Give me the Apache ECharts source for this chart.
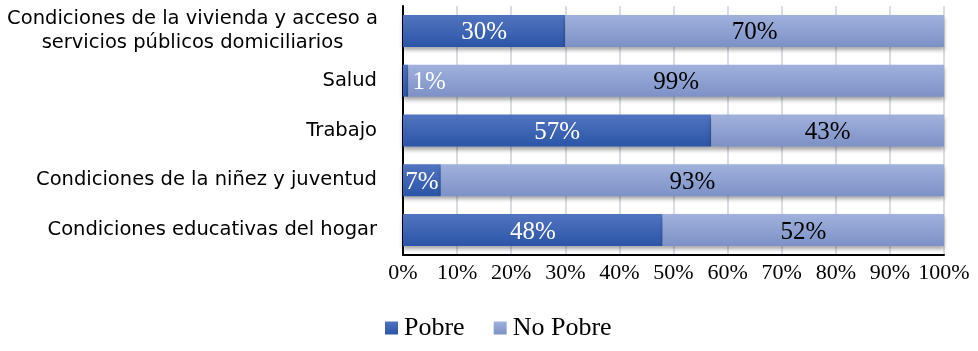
<!DOCTYPE html>
<html><head><meta charset="utf-8">
<script src="https://cdn.jsdelivr.net/npm/echarts@6/dist/echarts.min.js"></script>
<style>html,body{margin:0;padding:0;background:#fff}#c{width:978px;height:351px}</style>
</head><body><div id="c"></div>
<script>
const categories = [
  "Condiciones de la vivienda y acceso a\nservicios públicos domiciliarios",
  "Salud",
  "Trabajo",
  "Condiciones de la niñez y juventud",
  "Condiciones educativas del hogar"
];
const pobre = [30, 1, 57, 7, 48];
const noPobre = [70, 99, 43, 93, 52];
const xTicks = [0, 10, 20, 30, 40, 50, 60, 70, 80, 90, 100];

const serif = '"Liberation Serif","Times New Roman",serif';
const sans = '"DejaVu Sans",Verdana,sans-serif';
const gradP = new echarts.graphic.LinearGradient(0,0,0,1,[{offset:0,color:'#5274c0'},{offset:1,color:'#2b55a7'}]);
const gradN = new echarts.graphic.LinearGradient(0,0,0,1,[{offset:0,color:'#a0b1dc'},{offset:1,color:'#7d91c7'}]);
const shadow = {shadowBlur:4, shadowOffsetY:3, shadowColor:'rgba(0,0,0,0.35)'};

const cats = categories.slice().reverse();
const pData = pobre.slice().reverse().map((v,i)=>{
  const o = {value:v};
  if (v < 3) o.label = {position:'right', distance:4};
  return o;
});
const nData = noPobre.slice().reverse();

const chart = echarts.init(document.getElementById('c'));
chart.setOption({
  animation:false,
  grid:{left:403, right:34, top:6, height:249, containLabel:false},
  legend:{
    data:['Pobre','No Pobre'], top:310, left:380, itemWidth:13, itemHeight:13, itemGap:29,
    icon:'rect',
    textStyle:{fontFamily:serif, fontSize:26, color:'#000', padding:[0,0,0,1]}
  },
  xAxis:{
    type:'value', min:0, max:100, interval:10,
    axisLabel:{formatter:'{value}%', fontFamily:serif, fontSize:22, color:'#000', margin:7},
    axisLine:{show:true, lineStyle:{color:'#000', width:2}},
    axisTick:{show:false},
    splitLine:{show:true, lineStyle:{color:'#d9dde3', width:2}}
  },
  yAxis:{
    type:'category', data:cats,
    axisLine:{show:true, lineStyle:{color:'#000', width:2}},
    axisTick:{show:false},
    axisLabel:{
      fontFamily:sans, fontSize:19.5, color:'#000', margin:26, lineHeight:24,
      formatter:function(v){
        if (v.indexOf('\n')>=0) return v.split('\n').map(s=>'{c|'+s+'}').join('\n');
        return v;
      },
      rich:{c:{width:369, align:'center', fontFamily:sans, fontSize:19.5, lineHeight:24, color:'#000'}}
    }
  },
  series:[
    {name:'Pobre', type:'bar', stack:'t', data:pData, barWidth:32,
     itemStyle:Object.assign({color:gradP}, shadow),
     label:{show:true, position:'inside', offset:[0,2], formatter:'{c}%', fontFamily:serif, fontSize:25, color:'#fff'}},
    {name:'No Pobre', type:'bar', stack:'t', data:nData, barWidth:32,
     itemStyle:Object.assign({color:gradN}, shadow),
     label:{show:true, position:'inside', offset:[0,2], formatter:'{c}%', fontFamily:serif, fontSize:25, color:'#000'}}
  ]
});
</script></body></html>
